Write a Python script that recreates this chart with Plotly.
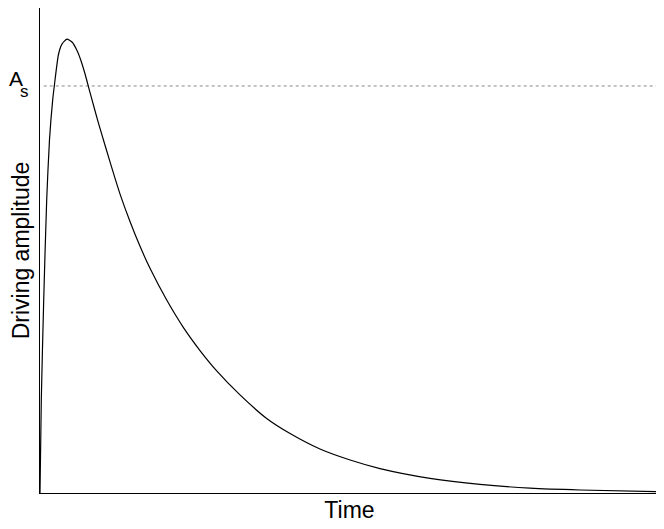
import plotly.graph_objects as go

# Driving amplitude curve (time in arbitrary units 0-100,
# amplitude normalised so that A_s = 1)
time = [0, 0.21, 0.60, 1.08, 1.53, 2.05, 2.31, 2.99, 3.55, 4.36, 5.17, 5.98,
        6.62, 7.27, 7.71, 8.24, 9.42, 11.58, 12.92, 14.54, 16.16, 17.77,
        20.47, 23.15, 25.85, 28.55, 32.31, 36.62, 40.40, 45.23, 50.10, 54.93,
        63.00, 71.08, 79.16, 87.24, 99.68]
amplitude = [0, 0.229, 0.474, 0.720, 0.867, 0.966, 1.0, 1.078, 1.103, 1.115,
             1.108, 1.087, 1.062, 1.030, 1.005, 0.975, 0.910, 0.800, 0.735,
             0.667, 0.606, 0.552, 0.474, 0.407, 0.350, 0.300, 0.241, 0.183,
             0.146, 0.108, 0.081, 0.060, 0.036, 0.021, 0.012, 0.0074, 0.0032]

# Saturation level A_s
a_s = 1.0
a_s_span = [0.6, 99.7]

fig = go.Figure()

# Dotted reference line at A_s
fig.add_trace(go.Scatter(x=a_s_span, y=[a_s, a_s], mode='lines',
                         line=dict(color='#888', width=1, dash='dot'),
                         hoverinfo='skip', showlegend=False))

# Driving amplitude vs time
fig.add_trace(go.Scatter(x=time, y=amplitude, mode='lines',
                         line=dict(color='black', width=1.2, shape='spline',
                                   smoothing=0.6),
                         showlegend=False))

# "A_s" label: A and a deep subscript s placed separately
fig.add_annotation(x=0, xref='paper', xanchor='right', xshift=-15,
                   y=a_s, yref='y', yanchor='middle', yshift=7,
                   text='A', showarrow=False,
                   font=dict(size=21, color='black'))
fig.add_annotation(x=0, xref='paper', xanchor='right', xshift=-9,
                   y=a_s, yref='y', yanchor='middle', yshift=-6,
                   text='s', showarrow=False,
                   font=dict(size=17, color='black'))

fig.update_xaxes(range=[0, 100], showline=True, linecolor='black', linewidth=1,
                 showgrid=False, zeroline=False, showticklabels=False,
                 ticks='', automargin=False,
                 title=dict(text='Time', standoff=8,
                            font=dict(size=23, color='black')))
fig.update_yaxes(range=[0, 1.1916], showline=True, linecolor='black', linewidth=1,
                 showgrid=False, zeroline=False, showticklabels=False,
                 ticks='', automargin=False,
                 title=dict(text='Driving amplitude', standoff=7,
                            font=dict(size=23, color='black')))

# the page adds an 8px body margin, so the figure is shrunk by that much
fig.update_layout(width=656, height=521,
                  margin=dict(l=32, r=5, t=0, b=36),
                  plot_bgcolor='#fff', paper_bgcolor='#fff',
                  font=dict(family='Liberation Sans, Arial, sans-serif',
                            color='black'))

fig.write_html("out.html")
